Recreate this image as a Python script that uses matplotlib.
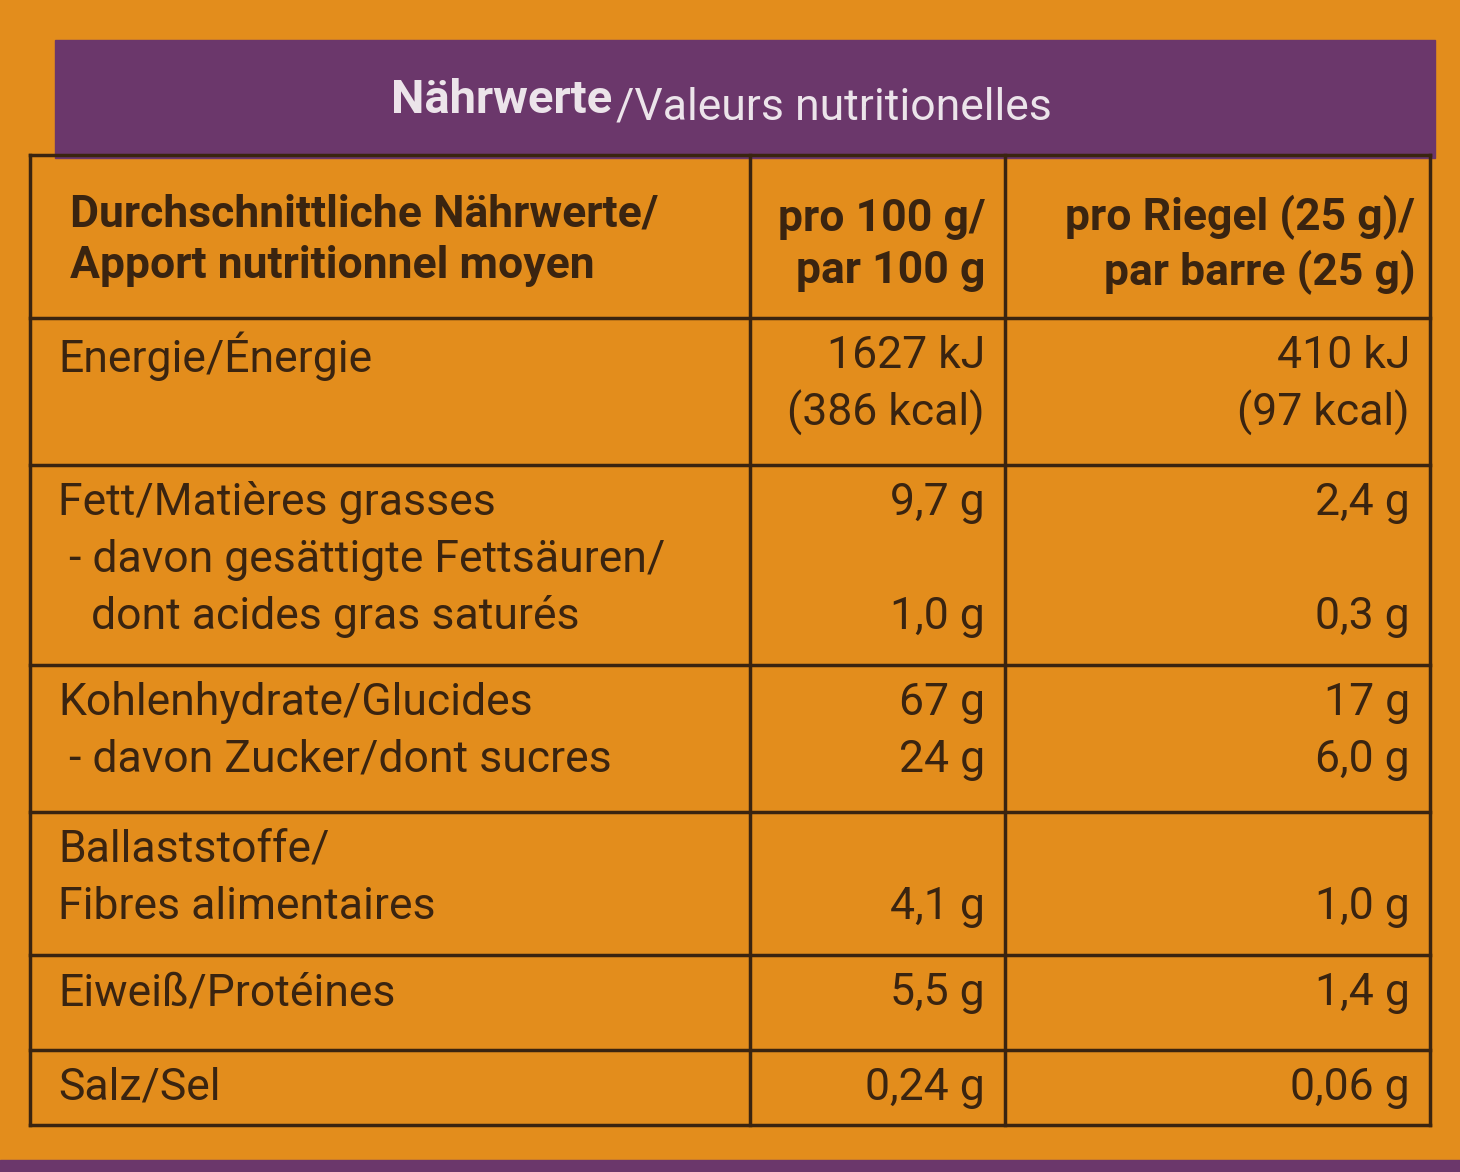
import matplotlib.pyplot as plt
from matplotlib.patches import Rectangle

# Table content, one entry per printed line
row_tops = [155, 318, 465, 665, 812, 955, 1050, 1125]
header = ["Durchschnittliche Nährwerte/\nApport nutritionnel moyen",
          "pro 100 g/\npar 100 g",
          "pro Riegel (25 g)/\npar barre (25 g)"]
labels = [
    ["Energie/Énergie", ""],
    ["Fett/Matières grasses", " - davon gesättigte Fettsäuren/", "   dont acides gras saturés"],
    ["Kohlenhydrate/Glucides", " - davon Zucker/dont sucres"],
    ["Ballaststoffe/", "Fibres alimentaires"],
    ["Eiweiß/Protéines"],
    ["Salz/Sel"],
]
per_100g = [
    ["1627 kJ", "(386 kcal)"],
    ["9,7 g", "", "1,0 g"],
    ["67 g", "24 g"],
    ["", "4,1 g"],
    ["5,5 g"],
    ["0,24 g"],
]
per_bar = [
    ["410 kJ", "(97 kcal)"],
    ["2,4 g", "", "0,3 g"],
    ["17 g", "6,0 g"],
    ["", "1,0 g"],
    ["1,4 g"],
    ["0,06 g"],
]

INK = "#3a2410"
FONT = ["Liberation Sans Narrow", "Roboto", "DejaVu Sans"]
plt.rcParams["font.family"] = FONT

fig = plt.figure(figsize=(14.6, 11.72), dpi=100)
fig.patch.set_facecolor("#e38d1c")
ax = fig.add_axes([0, 0, 1, 1])
ax.set_xlim(0, 1460)
ax.set_ylim(1172, 0)
ax.axis("off")

# purple title band
ax.add_patch(Rectangle((55, 40), 1380, 118, color="#6b376b"))
ax.text(612, 100, "Nährwerte", color="#ece4ea", fontsize=34, weight="bold",
        va="center", ha="right")
ax.text(616, 108, "/Valeurs nutritionelles", color="#ece4ea", fontsize=32,
        va="center", ha="left")
ax.add_patch(Rectangle((0, 1160), 1460, 12, color="#6b376b"))

# grid
x0, x1, x2, x3 = 30, 750, 1005, 1430
lw = 2.5
for y in row_tops:
    ax.plot([x0, x3], [y, y], color=INK, lw=lw)
for x in [x0, x1, x2, x3]:
    ax.plot([x, x], [row_tops[0], row_tops[-1]], color=INK, lw=lw)

# header
ax.text(70, 240, header[0], color=INK, fontsize=32, weight="bold",
        va="center", ha="left", linespacing=1.3)
ax.text(985, 245, header[1], color=INK, fontsize=32, weight="bold",
        va="center", ha="right", linespacing=1.3)
ax.text(1415, 245, header[2], color=INK, fontsize=32, weight="bold",
        va="center", ha="right", linespacing=1.3)

step = 57
for top, labs, v1, v2 in zip(row_tops[1:], labels, per_100g, per_bar):
    for i, (lab, a, b) in enumerate(zip(labs, v1, v2)):
        y = top + 38 + step * i
        ax.text(58, y, lab, color=INK, fontsize=32, va="center", ha="left")
        ax.text(985, y, a, color=INK, fontsize=32, va="center", ha="right")
        ax.text(1410, y, b, color=INK, fontsize=32, va="center", ha="right")

fig.savefig("out.png", dpi=100, facecolor=fig.get_facecolor())
